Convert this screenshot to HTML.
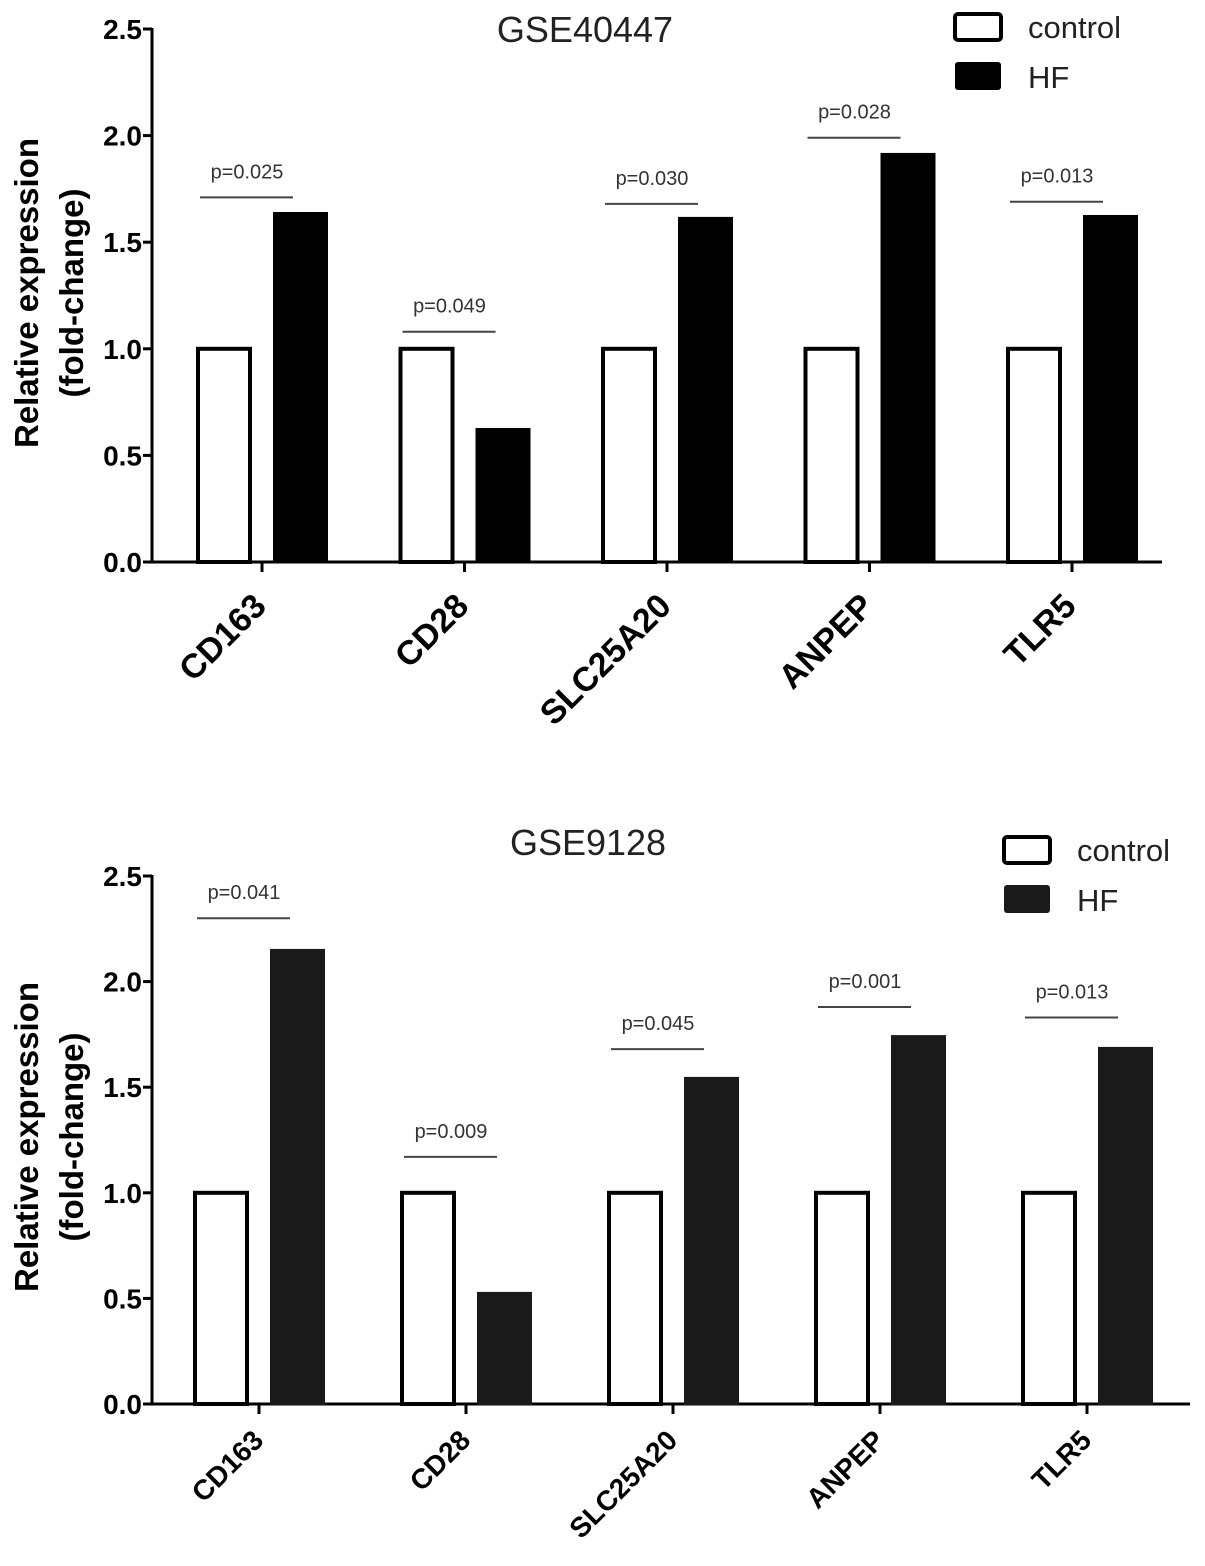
<!DOCTYPE html>
<html><head><meta charset="utf-8">
<style>
html,body{margin:0;padding:0;background:#fff;}
svg{display:block;font-family:"Liberation Sans",Arial,sans-serif;}
</style></head>
<body>
<svg id="fig" width="1205" height="1566" viewBox="0 0 1205 1566" xmlns="http://www.w3.org/2000/svg"></svg>
<script>
const categories = ["CD163","CD28","SLC25A20","ANPEP","TLR5"];
const controlTop = [1,1,1,1,1];
const hfTop = [1.637,0.624,1.614,1.914,1.623];
const pTop = ["p=0.025","p=0.049","p=0.030","p=0.028","p=0.013"];
const pLineTop = [1.71,1.08,1.68,1.99,1.69];
const controlBot = [1,1,1,1,1];
const hfBot = [2.15,0.526,1.544,1.742,1.686];
const pBot = ["p=0.041","p=0.009","p=0.045","p=0.001","p=0.013"];
const pLineBot = [2.30,1.17,1.68,1.88,1.83];
const yTicks = [0,0.5,1.0,1.5,2.0,2.5];
const yTickLabels = ["0.0","0.5","1.0","1.5","2.0","2.5"];

const NS="http://www.w3.org/2000/svg";
const svg=document.getElementById('fig');
function mk(tag,attrs,parent){const e=document.createElementNS(NS,tag);for(const k in attrs)e.setAttribute(k,attrs[k]);(parent||svg).appendChild(e);return e;}

function panel(o){
  const g=mk('g',{});
  
  
  const y=v=>o.y0-(o.y0-o.y25)*v/2.5;
  const cx=i=>o.c0+i*o.step;
  const t=mk('text',{x:o.titleX,y:o.titleY,'font-size':36,'text-anchor':'middle',fill:'#222'},g);t.textContent=o.title;
  
  
  const ax=mk('line',{x1:o.ax,y1:o.y25-1,x2:o.ax,y2:o.y0+1.5,stroke:'#000','stroke-width':3},g);
  
  
  yTicks.forEach((v,i)=>{
    mk('line',{x1:o.ax-9,y1:y(v),x2:o.ax,y2:y(v),stroke:'#000','stroke-width':3},g);
    const tl=mk('text',{x:o.ax-10,y:y(v)+10,'font-size':28,'font-weight':'bold','text-anchor':'end'},g);
    tl.textContent=yTickLabels[i];
    
    
  });
  const xa=mk('line',{x1:o.ax,y1:o.y0,x2:o.axEnd,y2:o.y0,stroke:'#000','stroke-width':3},g);
  
  
  const yt=mk('text',{transform:`translate(${o.ytX},${o.ytY}) rotate(-90)`,'font-size':33,'font-weight':'bold','text-anchor':'middle'},g);
  yt.textContent='Relative expression';
  
  
  const yt2=mk('text',{transform:`translate(${o.ytX+45},${o.ytY}) rotate(-90)`,'font-size':33,'font-weight':'bold','text-anchor':'middle'},g);
  yt2.textContent='(fold-change)';
  
  
  categories.forEach((c,i)=>{
    const x=cx(i);
    mk('line',{x1:x,y1:o.y0,x2:x,y2:o.y0+10,stroke:'#000','stroke-width':3},g);
    const b1=mk('rect',{x:x-64,y:y(o.ctrl[i]),width:52,height:o.y0-y(o.ctrl[i]),fill:'#fff',stroke:'#000','stroke-width':4},g);
    
    
    const b2=mk('rect',{x:x+12,y:y(o.hf[i]),width:53,height:o.y0-y(o.hf[i]),fill:o.hfFill,stroke:o.hfFill,'stroke-width':2},g);
    
    
    const py=y(o.pl[i]);
    const pl=mk('line',{x1:x-62,y1:py,x2:x+31,y2:py,stroke:'#444','stroke-width':2},g);
    
    
    const pt=mk('text',{x:x-15,y:py-19,'font-size':20,'text-anchor':'middle',fill:'#333'},g);
    pt.textContent=o.p[i];
    
    
    const cl=mk('text',{transform:`translate(${x+6},${o.y0+o.catDy}) rotate(-45)`,'font-size':o.catSize,'font-weight':'bold','text-anchor':'end'},g);
    cl.textContent=c;
    
    
  });
  const l1=mk('rect',{x:o.lx,y:o.ly,width:46,height:26,rx:3,fill:'#fff',stroke:'#000','stroke-width':4},g);
  
  
  const l2=mk('rect',{x:o.lx,y:o.ly+48,width:46,height:28,rx:3,fill:o.hfFill},g);
  
  
  const lt1=mk('text',{x:o.lx+73,y:o.ly+24,'font-size':31,fill:'#222'},g);lt1.textContent='control';
  
  
  const lt2=mk('text',{x:o.lx+73,y:o.ly+74,'font-size':31,fill:'#222'},g);lt2.textContent='HF';
  
  
}
panel({name:'chart-gse40447',title:'GSE40447',titleX:585,titleY:42,ax:152,axEnd:1162,y0:562,y25:29,c0:262,step:202.5,
  ctrl:controlTop,hf:hfTop,p:pTop,pl:pLineTop,hfFill:'#000',catSize:34,catDy:46,ytX:38,ytY:293,lx:955,ly:14});
panel({name:'chart-gse9128',title:'GSE9128',titleX:588,titleY:855,ax:152,axEnd:1190,y0:1404,y25:876,c0:259,step:207,
  ctrl:controlBot,hf:hfBot,p:pBot,pl:pLineBot,hfFill:'#1a1a1a',catSize:28,catDy:38,ytX:38,ytY:1137,lx:1004,ly:837});
</script>
</body></html>
